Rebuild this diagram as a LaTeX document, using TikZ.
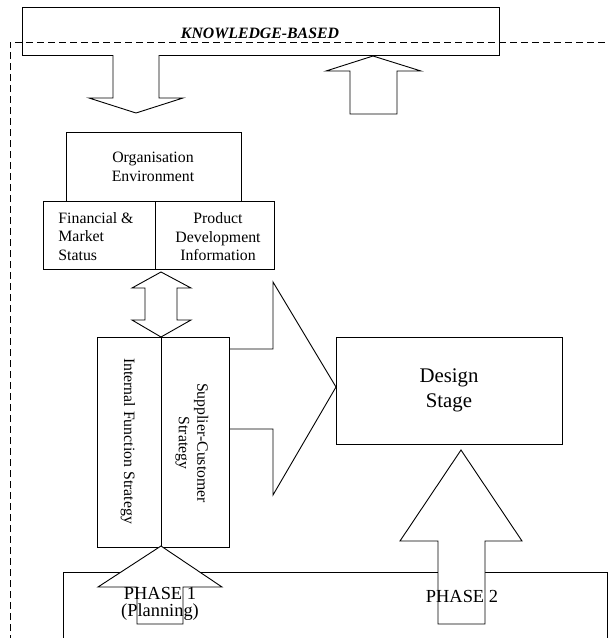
\documentclass[tikz,border=0pt]{standalone}
\usepackage{fontspec}
\setmainfont{Liberation Serif}
\begin{document}
\begin{tikzpicture}[x=1pt,y=-1pt,line width=0.9pt,
  box/.style={draw,inner sep=0pt,font=\fontsize{15.8}{18.5}\selectfont,align=center},
  txt/.style={inner sep=0pt,font=\fontsize{15.8}{18.5}\selectfont,align=center},
  blockarrow/.style={draw,fill=white,line join=miter},
  openarrow/.style={draw,line join=miter},
  dashline/.style={dash pattern=on 7pt off 4pt}]
\useasboundingbox (0,0) rectangle (608,638);
% top box
\node[box,minimum width=477pt,minimum height=48pt] (kb) at (260.5,31) {};
\node[txt,font=\fontsize{15.8}{18.5}\selectfont\bfseries\itshape] (kbt) at (260,33) {KNOWLEDGE-BASED};
% dashed frame
\coordinate (d0) at (10,642);
\coordinate (d1) at (10,42);
\coordinate (d2) at (610,42);
\draw[dashline] (d0) -- (d1) -- (d2);
% arrows at top
\draw[blockarrow] (113,55) -- (113,98) -- (89,98) -- (136,113) -- (183,98) -- (159,98) -- (159,55);
\draw[blockarrow] (350,114) -- (350,71) -- (326,71) -- (373,56) -- (421,71) -- (397,71) -- (397,114) -- cycle;
% organisation
\node[box,minimum width=175pt,minimum height=69pt] (org) at (153.5,166.5) {};
\node[txt] (orgt) at (153,167) {Organisation\\Environment};
\node[box,minimum width=112pt,minimum height=68pt] (fin) at (99,235) {};
\node[txt,align=left,anchor=west] (fint) at (58,236.5) {Financial \&\\Market\\Status};
\node[box,minimum width=119pt,minimum height=68pt] (prod) at (214.5,235) {};
\node[txt] (prodt) at (218,237) {Product\\Development\\Information};
% double arrow
\draw[blockarrow] (161,272) -- (191,288) -- (177,288) -- (177,320) -- (191,320) -- (161,337)
  -- (132,320) -- (145,320) -- (145,288) -- (132,288) -- cycle;
% strategy boxes
\node[box,minimum width=64pt,minimum height=210pt] (int) at (129,442) {};
\node[box,minimum width=68pt,minimum height=210pt] (sup) at (195,442) {};
\node[txt,rotate=-90] (intt) at (128,441) {Internal Function Strategy};
\node[txt,rotate=-90] (supt) at (192,443) {Supplier-Customer\\Strategy};
% big right arrow
\coordinate (rtip) at (336,387);
\draw[openarrow] (sup.east |- 0,349) -- (273,349) -- (273,282) -- (rtip) -- (273,495) -- (273,429) -- (sup.east |- 0,429);
% design stage
\node[box,minimum width=226pt,minimum height=107pt,font=\fontsize{20.8}{25}\selectfont] (des) at (449,390.5) {Design\\Stage};
% phase box
\draw (63,642) -- (63,572) -- (607,572) -- (607,642);
% phase arrows
\draw[blockarrow] (161,546) -- (222,587) -- (183,587) -- (183,624) -- (137,624) -- (137,587) -- (98,587) -- cycle;
\draw[blockarrow] (461,450) -- (522,541) -- (485,541) -- (485,624) -- (438,624) -- (438,541) -- (400,541) -- cycle;
\node[txt,font=\fontsize{18.4}{17.5}\selectfont] (p1) at (160,604) {PHASE 1\\(Planning)};
\node[txt,font=\fontsize{18.4}{17.5}\selectfont] (p2) at (462,596) {PHASE 2};
\end{tikzpicture}
\end{document}
